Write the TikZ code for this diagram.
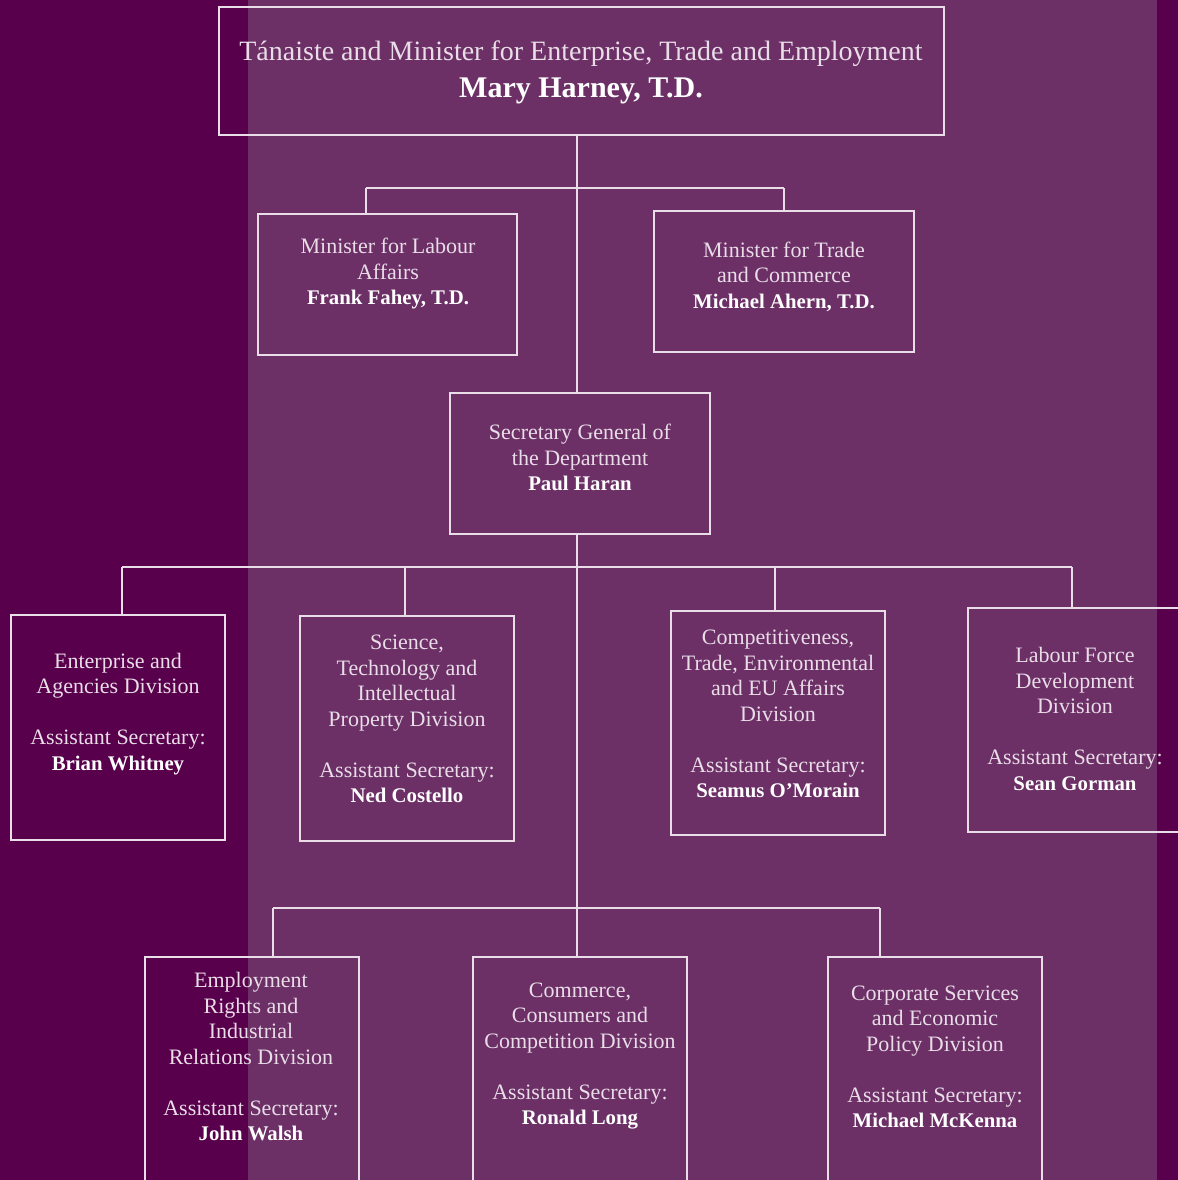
\documentclass[tikz,border=0pt]{standalone}
\usepackage{fontspec}
\setmainfont{Liberation Serif}
\usetikzlibrary{calc}

\definecolor{plumdark}{HTML}{58004B}
\definecolor{plumlight}{HTML}{6C3067}
\definecolor{plumline}{HTML}{E9DDE7}

\tikzset{
	unitbox/.style={draw=plumline, line width=0.7pt, inner sep=0pt},
	unittext/.style={text=plumline, align=center, inner sep=0pt, font=\fontsize{11}{12.75}\selectfont},
	link/.style={draw=plumline, line width=0.7pt},
}
\newcommand{\hname}[1]{{\color{white}\bfseries\fontsize{10.4}{12.75}\selectfont #1}}

\begin{document}
\begin{tikzpicture}[x=0.5pt,y=-0.5pt]
	%background
	\useasboundingbox (0,0) rectangle (1178,1180);
	\clip (0,0) rectangle (1178,1180);
	\fill[plumdark] (0,0) rectangle (1178,1180);		%outer band
	\fill[plumlight] (248,0) rectangle (1157,1180);		%middle band
	
	%minister
	\node[unitbox, minimum width=362.5pt, minimum height=64pt] (top) at (581.5,71) {};
	\node[unittext, font=\fontsize{14}{18.5}\selectfont] (topT) at (581,72)
		{Tánaiste and Minister for Enterprise, Trade and Employment\\{\color{white}\bfseries\fontsize{15}{18.5}\selectfont Mary Harney, T.D.}};
	
	%ministers of state
	\node[unitbox, minimum width=129.5pt, minimum height=70.5pt] (labaff) at (387.5,284.5) {};
	\node[unittext] (labaffT) at (388,273.5) {Minister for Labour\\Affairs\\\hname{Frank Fahey, T.D.}};
	\node[unitbox, minimum width=130pt, minimum height=70.5pt] (trade) at (784,281.5) {};
	\node[unittext] (tradeT) at (784,276.5) {Minister for Trade\\and Commerce\\\hname{Michael Ahern, T.D.}};
	
	%secretary general
	\node[unitbox, minimum width=130pt, minimum height=70.5pt] (sec) at (580,463.5) {};
	\node[unittext] (secT) at (580,457.5) {Secretary General of\\the Department\\\hname{Paul Haran}};
	
	%divisions, first row
	\node[unitbox, minimum width=107pt, minimum height=112.5pt] (ent) at (118,727.5) {};
	\node[unittext] (entT) at (118,714) {Enterprise and\\Agencies Division\\[12.75pt]Assistant Secretary:\\\hname{Brian Whitney}};
	\node[unitbox, minimum width=107pt, minimum height=112.5pt] (sci) at (407,728.5) {};
	\node[unittext] (sciT) at (407,719) {Science,\\Technology and\\Intellectual\\Property Division\\[12.75pt]Assistant Secretary:\\\hname{Ned Costello}};
	\node[unitbox, minimum width=107pt, minimum height=112pt] (comp) at (778,723) {};
	\node[unittext] (compT) at (778,714) {Competitiveness,\\Trade, Environmental\\and EU Affairs\\Division\\[12.75pt]Assistant Secretary:\\\hname{Seamus O’Morain}};
	\node[unitbox, minimum width=107pt, minimum height=112pt] (lab) at (1075,720) {};
	\node[unittext] (labT) at (1075,719) {Labour Force\\Development\\Division\\[12.75pt]Assistant Secretary:\\\hname{Sean Gorman}};
	
	%divisions, second row
	\node[unitbox, minimum width=107pt, minimum height=116.5pt] (emp) at (252,1073.5) {};
	\node[unittext] (empT) at (251,1057) {Employment\\Rights and\\Industrial\\Relations Division\\[12.75pt]Assistant Secretary:\\\hname{John Walsh}};
	\node[unitbox, minimum width=107pt, minimum height=116.5pt] (com) at (580,1073.5) {};
	\node[unittext] (comT) at (580,1056) {Commerce,\\Consumers and\\Competition Division\\[12.75pt]Assistant Secretary:\\\hname{Ronald Long}};
	\node[unitbox, minimum width=107pt, minimum height=116.5pt] (corp) at (935,1073.5) {};
	\node[unittext] (corpT) at (935,1057) {Corporate Services\\and Economic\\Policy Division\\[12.75pt]Assistant Secretary:\\\hname{Michael McKenna}};
	
	%branch points
	\coordinate (tr) at (577,0);		%trunk
	\coordinate (b1l) at (366,188);
	\coordinate (b1r) at (784,188);
	\coordinate (b2a) at (122,567);
	\coordinate (b2b) at (405,567);
	\coordinate (b2c) at (775,567);
	\coordinate (b2d) at (1072,567);
	\coordinate (b3a) at (273,908);
	\coordinate (b3c) at (880,908);
	
	%connectors
	\draw[link] (top.south -| tr) -- (sec.north -| tr);	%trunk, upper
	\draw[link] (sec.south -| tr) -- (com.north -| tr);	%trunk, lower
	\draw[link] (b1l) -- (b1r);
	\draw[link] (b1l) -- (labaff.north -| b1l);
	\draw[link] (b1r) -- (trade.north -| b1r);
	\draw[link] (b2a) -- (b2d);
	\draw[link] (b2a) -- (ent.north -| b2a);
	\draw[link] (b2b) -- (sci.north -| b2b);
	\draw[link] (b2c) -- (comp.north -| b2c);
	\draw[link] (b2d) -- (lab.north -| b2d);
	\draw[link] (b3a) -- (b3c);
	\draw[link] (b3a) -- (emp.north -| b3a);
	\draw[link] (b3c) -- (corp.north -| b3c);
\end{tikzpicture}
\end{document}
